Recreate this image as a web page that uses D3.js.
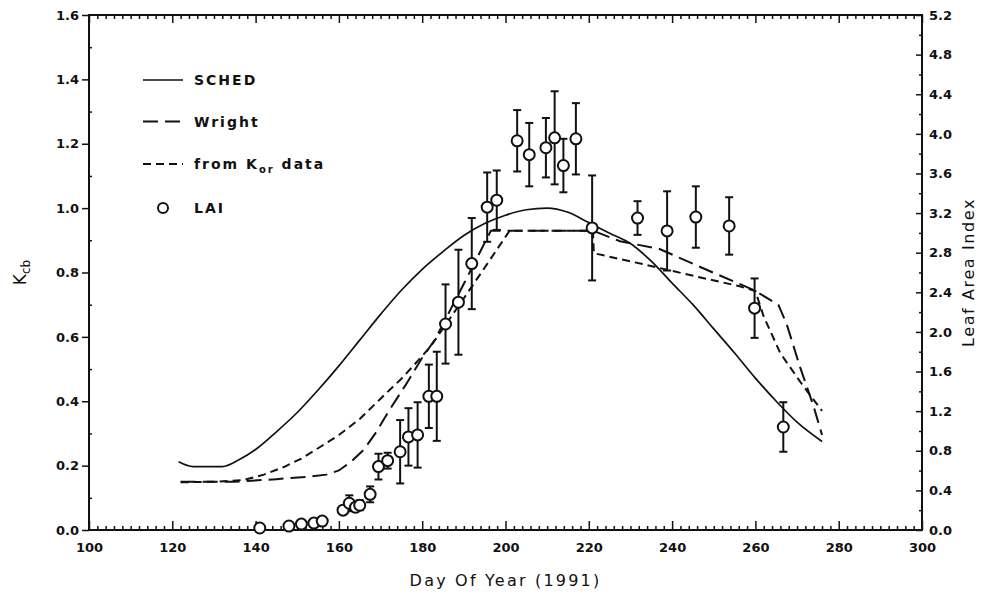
<!DOCTYPE html>
<html>
<head>
<meta charset="utf-8">
<script src="https://cdn.jsdelivr.net/npm/d3@7/dist/d3.min.js"></script>
<style>
  html, body { margin: 0; padding: 0; background: #fff; }
  svg { display: block; }
  .tick text { font-family: "DejaVu Sans", sans-serif; font-weight: bold; font-size: 13px; fill: #111; }
  .domain { display: none; }
</style>
</head>
<body>
<svg id="chart" width="985" height="596"></svg>
<script>
// Basal crop coefficient curves (Kcb vs. day of year)
const schedCurve = [
  [121.5,0.212],[125,0.197],[132,0.197],[136,0.218],[140,0.25],[145,0.305],[150,0.365],
  [155,0.435],[160,0.51],[165,0.59],[170,0.67],[175,0.745],[180,0.81],[185,0.865],
  [190,0.915],[195,0.952],[200,0.978],[205,0.995],[210,1.0],[215,0.987],[220,0.955],
  [225,0.922],[230,0.89],[235,0.835],[240,0.767],[245,0.70],[250,0.625],[255,0.55],
  [260,0.472],[265,0.40],[270,0.335],[276,0.275]
];
const wrightCurve = [
  [122,0.15],[135,0.15],[145,0.158],[152,0.165],[157,0.172],[160,0.185],[163,0.213],
  [166,0.25],[169,0.305],[172,0.37],[176,0.45],[180,0.535],[183,0.59],[190,0.765],
  [196.5,0.93],[221,0.93],[227.5,0.897],[237,0.873],[248,0.81],[259.5,0.746],
  [265.5,0.70],[267.5,0.64],[270.7,0.507],[274,0.383],[276,0.295]
];
const korCurve = [
  [122,0.148],[130,0.15],[137,0.155],[142,0.172],[147,0.197],[151,0.222],[155,0.254],
  [160,0.295],[165,0.345],[170,0.408],[175,0.47],[178,0.512],[182,0.57],[190,0.72],
  [195,0.815],[201,0.93],[221,0.93],[221.2,0.86],[234,0.823],[246,0.787],[256,0.758],
  [260,0.742],[262,0.663],[266,0.549],[271,0.456],[276,0.37]
];

// Measured leaf area index: day, mean, half-width of error bar
const laiDay = [141,148,151,154,156,161,162.5,164,165,167.5,169.5,171.7,174.7,176.7,178.9,
  181.6,183.5,185.6,188.7,191.9,195.6,197.9,202.8,205.7,209.7,211.8,213.9,216.9,220.8,
  231.7,238.8,245.7,253.7,259.8,266.7];
const laiMean = [0.02,0.04,0.06,0.07,0.09,0.20,0.27,0.23,0.25,0.36,0.64,0.70,0.79,0.94,0.96,
  1.35,1.35,2.08,2.30,2.69,3.26,3.33,3.93,3.79,3.86,3.96,3.68,3.95,3.05,
  3.15,3.02,3.16,3.07,2.24,1.04];
const laiErr = [0,0,0,0.02,0.03,0.03,0.08,0.04,0.05,0.08,0.13,0.08,0.32,0.29,0.33,
  0.32,0.45,0.40,0.53,0.46,0.35,0.30,0.31,0.32,0.30,0.47,0.27,0.36,0.53,
  0.17,0.40,0.31,0.29,0.30,0.25];

// Axis ticks
const xMajor = d3.range(100, 301, 20);
const xMinor = d3.range(100, 301, 2).filter(d => d % 20 !== 0);
const kMajor = d3.range(0, 1.61, 0.2).map(d => +d.toFixed(1));
const kMinor = d3.range(0.1, 1.6, 0.2).map(d => +d.toFixed(1));
const lMajor = d3.range(0, 5.21, 0.4).map(d => +d.toFixed(1));
const lMinor = d3.range(0.2, 5.2, 0.4).map(d => +d.toFixed(1));

const legendItems = [
  { key: "sched", label: "SCHED" },
  { key: "wright", label: "Wright" },
  { key: "kor", label: "from K", sub: "or", after: " data" },
  { key: "lai", label: "LAI" }
];

const margin = { left: 89, right: 63, top: 15, bottom: 66 };
const W = 985, H = 596;
const svg = d3.select("#chart");

const x = d3.scaleLinear([100, 300], [margin.left, W - margin.right]);
const yK = d3.scaleLinear([0, 1.6], [H - margin.bottom, margin.top]);
const yL = d3.scaleLinear([0, 5.2], [H - margin.bottom, margin.top]);

const styles = {
  sched: { dash: null, width: 1.7 },
  wright: { dash: "15,7", width: 2 },
  kor: { dash: "8,5", width: 2 }
};

const plotBottom = H - margin.bottom, plotTop = margin.top;
const plotLeft = margin.left, plotRight = W - margin.right;

// Axes
svg.append("g").attr("transform", `translate(0,${plotBottom})`)
  .call(d3.axisBottom(x).tickValues(xMajor).tickSize(-9).tickPadding(13).tickFormat(d3.format("d")));
svg.append("g").attr("transform", `translate(0,${plotBottom})`)
  .call(d3.axisBottom(x).tickValues(xMinor).tickSize(-4).tickFormat(""));
svg.append("g").attr("transform", `translate(0,${plotTop})`)
  .call(d3.axisTop(x).tickValues(xMajor).tickSize(-8).tickFormat(""));
svg.append("g").attr("transform", `translate(0,${plotTop})`)
  .call(d3.axisTop(x).tickValues(xMinor).tickSize(-4).tickFormat(""));

svg.append("g").attr("transform", `translate(${plotLeft},0)`)
  .call(d3.axisLeft(yK).tickValues(kMajor).tickSize(7).tickPadding(3).tickFormat(d3.format(".1f")));
svg.append("g").attr("transform", `translate(${plotLeft},0)`)
  .call(d3.axisLeft(yK).tickValues(kMinor).tickSize(-3).tickFormat(""));
svg.append("g").attr("transform", `translate(${plotRight},0)`)
  .call(d3.axisRight(yL).tickValues(lMajor).tickSize(-6).tickPadding(7).tickFormat(d3.format(".1f")));
svg.append("g").attr("transform", `translate(${plotRight},0)`)
  .call(d3.axisRight(yL).tickValues(lMinor).tickSize(-3).tickFormat(""));

svg.selectAll(".tick line").attr("stroke", "#111").attr("stroke-width", 1.5);

// Frame
svg.append("rect")
  .attr("x", plotLeft).attr("y", plotTop)
  .attr("width", plotRight - plotLeft).attr("height", plotBottom - plotTop)
  .attr("fill", "none").attr("stroke", "#111").attr("stroke-width", 2);

// Axis titles
svg.append("text")
  .attr("x", (plotLeft + plotRight) / 2).attr("y", 586)
  .attr("text-anchor", "middle")
  .style("font-family", "DejaVu Sans, sans-serif").style("font-size", "16px")
  .style("letter-spacing", "2.2px").attr("fill", "#111")
  .text("Day Of Year (1991)");

const yt = svg.append("text")
  .attr("transform", `translate(26,${(plotTop + plotBottom) / 2}) rotate(-90)`)
  .attr("text-anchor", "middle")
  .style("font-family", "DejaVu Sans, sans-serif").style("font-size", "17px").attr("fill", "#111");
yt.append("tspan").text("K");
yt.append("tspan").attr("dy", 4).style("font-size", "12px").text("cb");

svg.append("text")
  .attr("transform", `translate(974,${(plotTop + plotBottom) / 2}) rotate(-90)`)
  .attr("text-anchor", "middle")
  .style("font-family", "DejaVu Sans, sans-serif").style("font-size", "16px")
  .style("letter-spacing", "1.6px").attr("fill", "#111")
  .text("Leaf Area Index");

// Curves
const line = d3.line().x(d => x(d[0])).y(d => yK(d[1]));
const curves = { sched: schedCurve, wright: wrightCurve, kor: korCurve };
Object.entries(curves).forEach(([k, data]) => {
  svg.append("path")
    .datum(data)
    .attr("d", line.curve(k === "sched" ? d3.curveMonotoneX : d3.curveLinear))
    .attr("fill", "none").attr("stroke", "#111")
    .attr("stroke-width", styles[k].width)
    .attr("stroke-dasharray", styles[k].dash);
});

// LAI error bars and markers
const lai = laiDay.map((d, i) => ({ day: d, v: laiMean[i], e: laiErr[i] }));
const eb = svg.append("g").attr("stroke", "#111").attr("stroke-width", 2);
lai.filter(d => d.e > 0).forEach(d => {
  const cx = x(d.day);
  eb.append("line").attr("x1", cx).attr("x2", cx).attr("y1", yL(d.v - d.e)).attr("y2", yL(d.v + d.e));
  [d.v - d.e, d.v + d.e].forEach(v => {
    eb.append("line").attr("x1", cx - 4).attr("x2", cx + 4).attr("y1", yL(v)).attr("y2", yL(v));
  });
});
svg.append("g").selectAll("circle").data(lai).join("circle")
  .attr("cx", d => x(d.day)).attr("cy", d => yL(d.v)).attr("r", 5.5)
  .attr("fill", "#fff").attr("stroke", "#111").attr("stroke-width", 2);

// Legend
const lg = svg.append("g").style("font-family", "DejaVu Sans, sans-serif")
  .style("font-size", "14px").style("font-weight", "bold").style("letter-spacing", "2px");
const rowY = [80, 121.5, 164, 208];
legendItems.forEach((it, i) => {
  const y0 = rowY[i];
  if (it.key === "lai") {
    lg.append("circle").attr("cx", 163).attr("cy", y0).attr("r", 5)
      .attr("fill", "#fff").attr("stroke", "#111").attr("stroke-width", 2);
  } else {
    lg.append("line").attr("x1", 143).attr("x2", 183).attr("y1", y0).attr("y2", y0)
      .attr("stroke", "#111").attr("stroke-width", styles[it.key].width)
      .attr("stroke-dasharray", styles[it.key].dash);
  }
  const t = lg.append("text").attr("x", 194).attr("y", y0 + 5).attr("fill", "#111");
  t.append("tspan").text(it.label);
  if (it.sub) {
    t.append("tspan").attr("dy", 4).style("font-size", "10px").text(it.sub);
    t.append("tspan").attr("dy", -4).text(it.after);
  }
});
</script>
</body>
</html>
